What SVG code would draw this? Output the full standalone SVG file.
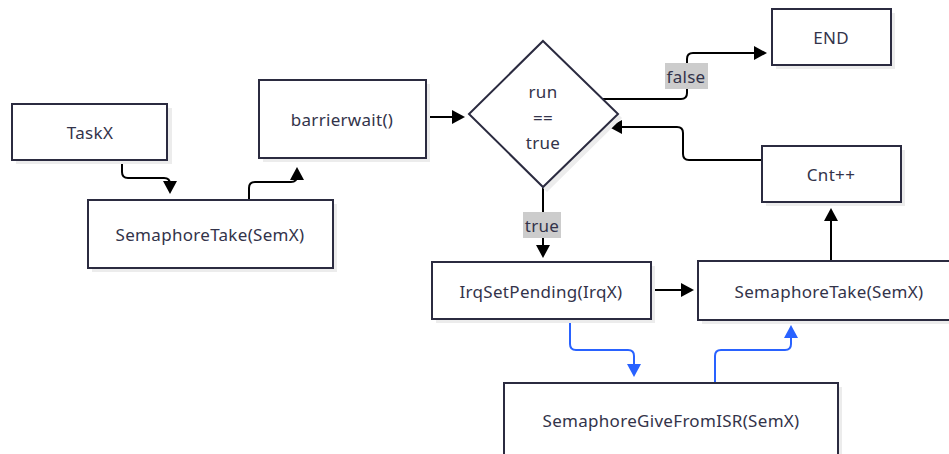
<svg xmlns="http://www.w3.org/2000/svg" width="949" height="454" viewBox="0 0 949 454">
  <defs>
    <style>
      .box { fill: #ffffff; stroke: #2b2b40; stroke-width: 2; }
      .shadow { fill: #ececec; }
      .lbl { font-family: "Noto Sans", "DejaVu Sans", sans-serif; font-size: 17px; letter-spacing: 0.3px; fill: #33334a; text-anchor: middle; dominant-baseline: central; }
      .line { fill: none; stroke: #000; stroke-width: 2; }
      .bline { fill: none; stroke: #2962ff; stroke-width: 2; }
      .head { fill: #000; }
      .bhead { fill: #2962ff; }
      .elbl { fill: #cccccc; }
    </style>
  </defs>
  <rect width="949" height="454" fill="#ffffff"/>

  <g id="connectors">
    <path class="line" d="M122,160 V172 Q122,178 128,178 H164 Q170,178 170,184 V184"/>
    <path class="head" d="M163,181 L177,181 L170,194 z"/>
    <path class="line" d="M249,200 V188 Q249,182 255,182 H291 Q297,182 297,176 V172"/>
    <path class="head" d="M290,180 L304,180 L297,167 z"/>
    <path class="line" d="M426,117 H452"/>
    <path class="head" d="M452,110 L465,117 L452,124 z"/>
    <path class="line" d="M601,99 H681 Q687,99 687,93 V59 Q687,53 693,53 H756"/>
    <path class="head" d="M754,46 L767,53 L754,60 z"/>
    <path class="line" d="M762,160 H689 Q683,160 683,154 V133 Q683,127 677,127 H620"/>
    <path class="head" d="M622,120 L609,127 L622,134 z"/>
    <path class="line" d="M543,187 V248"/>
    <path class="head" d="M536,245 L550,245 L543,258 z"/>
    <path class="line" d="M651,290 H682"/>
    <path class="head" d="M681,283 L694,290 L681,297 z"/>
    <path class="line" d="M831,261 V218"/>
    <path class="head" d="M824,221 L838,221 L831,208 z"/>
    <path class="bline" d="M570,319 V344 Q570,350 576,350 H628 Q634,350 634,356 V366"/>
    <path class="bhead" d="M627,364 L641,364 L634,377 z"/>
    <path class="bline" d="M715,383 V356 Q715,350 721,350 H785 Q791,350 791,344 V336"/>
    <path class="bhead" d="M784,338 L798,338 L791,325 z"/>
    <rect class="elbl" x="665" y="63" width="43" height="26"/>
    <text class="lbl" x="686" y="76">false</text>
    <rect class="elbl" x="523" y="212" width="38" height="26"/>
    <text class="lbl" x="542" y="225">true</text>
  </g>

  <g id="taskx">
    <rect class="shadow" x="16" y="108" width="156" height="56"/>
    <rect class="box" x="12" y="104" width="155" height="56"/>
    <text class="lbl" x="90" y="132">TaskX</text>
  </g>
  <g id="semtake1">
    <rect class="shadow" x="92" y="204" width="245" height="68"/>
    <rect class="box" x="88" y="200" width="245" height="68"/>
    <text class="lbl" x="210" y="234">SemaphoreTake(SemX)</text>
  </g>
  <g id="barrier">
    <rect class="shadow" x="263" y="84" width="167" height="78"/>
    <rect class="box" x="259" y="80" width="167" height="78"/>
    <text class="lbl" x="342" y="119">barrierwait()</text>
  </g>
  <g id="cond">
    <polygon class="shadow" points="547,45 622,118 547,192 473,118"/>
    <polygon class="box" points="543,41 618,114 543,187 469,114"/>
    <text class="lbl" x="543" y="91">run</text>
    <text class="lbl" x="543" y="117">==</text>
    <text class="lbl" x="543" y="142">true</text>
  </g>
  <g id="end">
    <rect class="shadow" x="776" y="13" width="119" height="56"/>
    <rect class="box" x="772" y="9" width="119" height="56"/>
    <text class="lbl" x="831" y="37">END</text>
  </g>
  <g id="cnt">
    <rect class="shadow" x="766" y="150" width="139" height="56"/>
    <rect class="box" x="762" y="146" width="139" height="56"/>
    <text class="lbl" x="831" y="174">Cnt++</text>
  </g>
  <g id="irq">
    <rect class="shadow" x="436" y="266" width="219" height="57"/>
    <rect class="box" x="432" y="262" width="219" height="57"/>
    <text class="lbl" x="541" y="291">IrqSetPending(IrqX)</text>
  </g>
  <g id="semtake2">
    <rect class="shadow" x="702" y="265" width="262" height="59"/>
    <rect class="box" x="698" y="261" width="262" height="59"/>
    <text class="lbl" x="829" y="291">SemaphoreTake(SemX)</text>
  </g>
  <g id="give">
    <rect class="shadow" x="508" y="387" width="334" height="80"/>
    <rect class="box" x="504" y="383" width="334" height="80"/>
    <text class="lbl" x="671" y="420">SemaphoreGiveFromISR(SemX)</text>
  </g>
</svg>
